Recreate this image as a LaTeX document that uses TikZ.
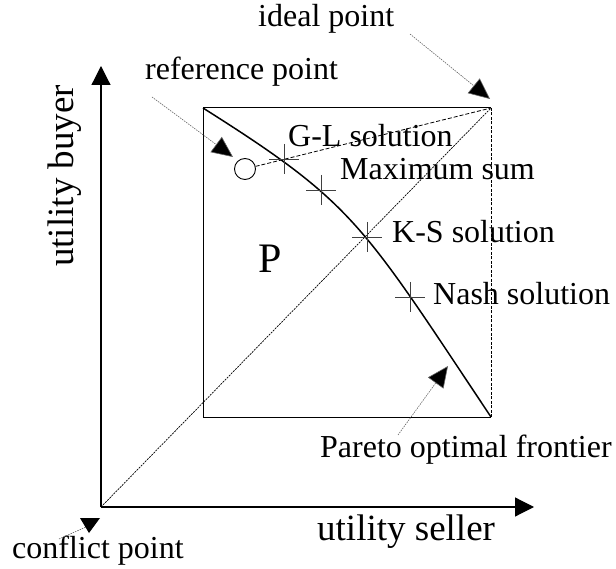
\documentclass[tikz,border=0pt]{standalone}
\usepackage{fontspec}
\setmainfont{Liberation Serif}
\usetikzlibrary{arrows.meta,calc}
\begin{document}
\begin{tikzpicture}[x=1pt,y=-1pt,
  lbl/.style={inner sep=0pt,anchor=base west,font=\fontsize{32}{38}\selectfont},
  axlbl/.style={inner sep=0pt,anchor=base west,font=\fontsize{37}{44}\selectfont},
  axisline/.style={line width=1.2pt,-{Triangle[length=19pt,width=19pt]}},
  note/.style={draw=black!60,line width=0.6pt,dash pattern=on 1.5pt off 1pt,-{Triangle[length=21pt,width=19pt,fill=black]}},
  crossmark/.style={draw=black!75,line width=0.8pt},
]
\useasboundingbox (0,0) rectangle (616,569);
% key points
\coordinate (O) at (101,507);
\coordinate (Ytip) at (101,66);
\coordinate (Xtip) at (534,507);
\coordinate (TL) at (203,108);
\coordinate (TR) at (491,108);
\coordinate (BL) at (203,417);
\coordinate (BR) at (491,417);
\coordinate (GL) at (284,159);
\coordinate (MS) at (321,190);
\coordinate (KS) at (367,237);
\coordinate (NS) at (410,297);
% axes
\draw[axisline] (O) -- (Ytip);
\draw[axisline] (O) -- (Xtip);
% rectangle
\draw[line width=1pt] (TR) -- (TL) -- (BL) -- (BR);
\draw[line width=0.8pt,dash pattern=on 3pt off 1.5pt] (BR) -- (TR);
% diagonal
\draw[line width=0.7pt,dash pattern=on 2pt off 1pt] (O) -- (TR);
% reference point and its line to the ideal point
\node[circle,draw,line width=0.9pt,fill=white,minimum size=21pt,inner sep=0pt] (ref) at (245,169) {};
\draw[line width=0.8pt,dash pattern=on 4pt off 2pt] (ref) -- (TR);
% Pareto frontier
\draw[line width=1.5pt] (TL) .. controls (355,204) and (361,222) .. (BR);
% crosses
\foreach \p in {GL,MS,KS,NS}{
  \draw[crossmark] ($(\p)+(-15,0)$) -- ($(\p)+(15,0)$);
  \draw[crossmark] ($(\p)+(0,-15)$) -- ($(\p)+(0,15)$);
}
% labels
\node[lbl] (tideal) at (258,27) {ideal point};
\node[lbl] (tref) at (145,80) {reference point};
\node[lbl] (tgl) at (288,147) {G-L solution};
\node[lbl] (tms) at (340,180) {Maximum sum};
\node[lbl] (tks) at (392,243) {K-S solution};
\node[lbl] (tns) at (433,305) {Nash solution};
\node[lbl] (tpar) at (320,457) {Pareto optimal frontier};
\node[lbl] (tcon) at (12,558) {conflict point};
\node[axlbl] (tsel) at (317,540) {utility seller};
\node[axlbl,rotate=90] (tbuy) at (73,267) {utility buyer};
\node[inner sep=0pt,anchor=base,font=\fontsize{42}{48}\selectfont] (tP) at (270,273) {P};
% annotation arrows
\coordinate (idealA) at (410,34);
\coordinate (idealB) at (490,99);
\draw[note] (idealA) -- (idealB);
\coordinate (refA) at (152,97);
\coordinate (refB) at (233,157);
\draw[note] (refA) -- (refB);
\coordinate (parA) at (398,435);
\coordinate (parB) at (448,366);
\draw[note] (parA) -- (parB);
\coordinate (conA) at (59,539);
\coordinate (conB) at (86,527);
\draw[draw=black!60,line width=0.6pt,dash pattern=on 1.5pt off 1pt] (conA) -- (conB);
\fill (80,518) -- (100,518) -- (89,533) -- cycle;
\end{tikzpicture}
\end{document}
